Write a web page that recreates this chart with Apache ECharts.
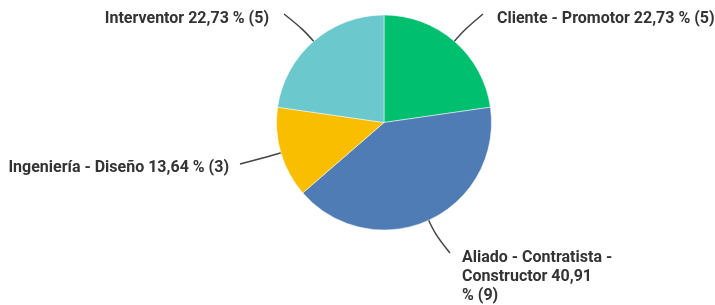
<!DOCTYPE html>
<html lang="es">
<head>
  <meta charset="UTF-8">
  <title>pie</title>
  <style>
    html, body { margin:0; padding:0; background:#fff; }
    #pie { width:715px; height:305px; }
  </style>
</head>
<body>
  <div id="pie"></div>
  <script src="https://cdn.jsdelivr.net/npm/echarts@6/dist/echarts.min.js"></script>
  <script>
    var names = ['Cliente - Promotor', 'Aliado - Contratista - Constructor', 'Ingeniería - Diseño', 'Interventor']
    var counts = [5, 9, 3, 5]
    var percents = ['22,73', '40,91', '13,64', '22,73']
    var colors = ['#00BF6F', '#507CB6', '#F9BE00', '#6BC8CD']

    var cx = 384, cy = 122.5, r = 107.5

    // label placement and where each guide line ends
    var spots = [
      { x:497, y:19, align:'left', verticalAlign:'middle', end:[483, 14] },
      { x:462, y:248, align:'left', verticalAlign:'top', end:[450, 253] },
      { x:229, y:168, align:'right', verticalAlign:'middle', end:[240, 164] },
      { x:269, y:19, align:'right', verticalAlign:'middle', end:[284, 14] }
    ]

    var total = counts.reduce(function (a, b) { return a + b }, 0)
    var mids = []
    var acc = 0
    counts.forEach(function (c) {
      mids.push((acc + c / 2) / total * Math.PI * 2)
      acc += c
    })

    var data = names.map(function (n, i) {
      return { name: n, value: counts[i], itemStyle: { color: colors[i] } }
    })

    var myChart = echarts.init(document.getElementById('pie'))
    myChart.setOption({
      animation: false,
      series: [{
        type: 'pie',
        center: [cx, cy],
        radius: r,
        startAngle: 90,
        clockwise: true,
        data: data,
        itemStyle: { borderColor: '#fff', borderWidth: 0.5 },
        label: {
          color: '#333',
          fontFamily: 'Roboto',
          fontWeight: 'bold',
          fontSize: 16,
          lineHeight: 19,
          overflow: 'none',
          formatter: function (p) {
            var i = p.dataIndex
            if (i === 1) return 'Aliado - Contratista -\nConstructor ' + percents[i] + '\n% (' + counts[i] + ')'
            return p.name + ' ' + percents[i] + ' % (' + counts[i] + ')'
          }
        },
        labelLine: {
          show: true,
          smooth: 0.4,
          lineStyle: { color: '#444', width: 1.5 }
        },
        labelLayout: function (p) {
          var i = p.dataIndex
          var s = spots[i]
          var dx = Math.sin(mids[i]), dy = -Math.cos(mids[i])
          var p0 = [cx + dx * (r - 2), cy + dy * (r - 2)]
          var p1 = [cx + dx * (r + 16), cy + dy * (r + 16)]
          return {
            x: s.x, y: s.y, align: s.align, verticalAlign: s.verticalAlign,
            width: 260,
            labelLinePoints: [p0, p1, s.end]
          }
        }
      }]
    })
  </script>
</body>
</html>
